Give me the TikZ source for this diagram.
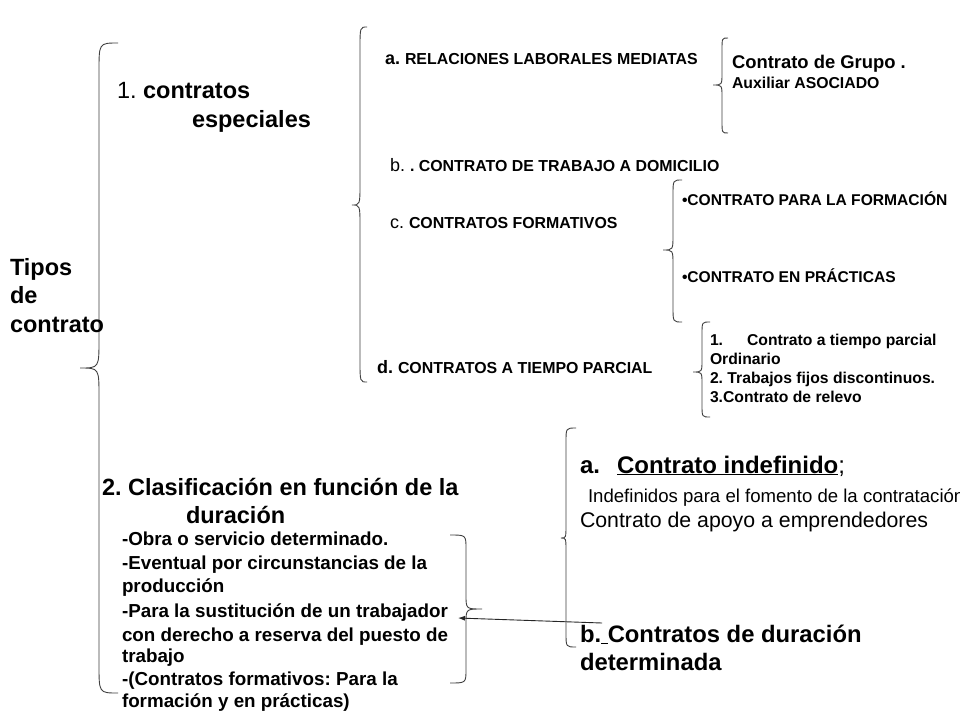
\documentclass[tikz,border=0pt]{standalone}
\usepackage{fontspec}
\setmainfont{Liberation Sans}
\usetikzlibrary{arrows.meta}
\frenchspacing
\newcommand\fs[1]{\fontsize{#1}{#1}\selectfont}
% #1 x of ends, #2 x of spine, #3 x of tip, #4 y top, #5 y tip, #6 y bottom, #7 curl size
\newcommand\brc[7]{\draw[brcline] (#1,#4) .. controls (#2,#4) .. (#2,#4+#7) -- (#2,#5-#7) .. controls (#2,#5) .. (#3,#5) .. controls (#2,#5) .. (#2,#5+#7) -- (#2,#6-#7) .. controls (#2,#6) .. (#1,#6);}
\begin{document}
\begin{tikzpicture}[x=1pt,y=-1pt,
  txt/.style={anchor=base west,inner sep=0pt,outer sep=0pt},
  brcline/.style={line width=0.9pt,draw=black!75},
  arr/.style={line width=0.9pt,draw=black!85,-{Latex[length=7pt,width=5pt]}}]
\useasboundingbox (0,0) rectangle (960,720);
\clip (0,0) rectangle (960,720);
\fill[white] (0,0) rectangle (960,720);

% braces
\brc{118}{99}{80}{43}{368}{693}{28}
\brc{367}{360}{352}{27}{205}{382}{22}
\brc{728}{722}{713}{38}{85}{133}{12}
\brc{682}{673}{663}{180}{250}{322}{15}
\brc{710}{702}{693}{322}{372}{417}{12}
\brc{576}{566}{561}{428}{538}{647}{14}
\brc{450}{466}{482}{535}{609}{683}{14}

% left column
\node[txt,font=\bfseries\fs{23.5}] (tipos) at (10,275) {Tipos};
\node[txt,font=\bfseries\fs{23.5}] (de) at (10,303) {de};
\node[txt,font=\bfseries\fs{23.5}] (contrato) at (10,332) {contrato};

\node[txt,font=\fs{23.5}] (esp1) at (117,98) {1. \textbf{contratos}};
\node[txt,font=\bfseries\fs{23.5}] (esp2) at (192,127) {especiales};

% special contracts
\node[txt] (ra) at (385,64) {\bfseries\fs{18}a. \fs{15.9}RELACIONES LABORALES MEDIATAS};
\node[txt] (rb) at (390,171) {\fs{18}b. \bfseries\fs{15.9}. CONTRATO DE TRABAJO A DOMICILIO};
\node[txt] (rc) at (390,228) {\fs{18}c. \bfseries\fs{15.9}CONTRATOS FORMATIVOS};
\node[txt] (rd) at (377,373) {\bfseries\fs{18}d. \fs{15.9}CONTRATOS A TIEMPO PARCIAL};

\node[txt,font=\bfseries\fs{18.4}] (g1) at (732,68) {Contrato de Grupo .};
\node[txt,font=\bfseries\fs{15.8}] (g2) at (732,88) {Auxiliar ASOCIADO};

\node[txt,font=\bfseries\fs{15.6}] (f1) at (682,205) {•CONTRATO PARA LA FORMACIÓN};
\node[txt,font=\bfseries\fs{15.6}] (f2) at (682,282) {•CONTRATO EN PRÁCTICAS};

\node[txt,font=\bfseries\fs{15.7}] (p1) at (710,345) {1.\hspace{24pt}Contrato a tiempo parcial};
\node[txt,font=\bfseries\fs{15.7}] (p2) at (710,364) {Ordinario};
\node[txt,font=\bfseries\fs{15.7}] (p3) at (710,383) {2. Trabajos fijos discontinuos.};
\node[txt,font=\bfseries\fs{15.7}] (p4) at (710,402) {3.Contrato de relevo};

% duration
\node[txt,font=\bfseries\fs{23.5}] (h1) at (102,495) {2. Clasificación en función de la};
\node[txt,font=\bfseries\fs{23.5}] (h2) at (186,523) {duración};

\node[txt,font=\bfseries\fs{18.8}] (l1) at (122,545) {-Obra o servicio determinado.};
\node[txt,font=\bfseries\fs{18.8}] (l2) at (122,569) {-Eventual por circunstancias de la};
\node[txt,font=\bfseries\fs{18.8}] (l3) at (122,592) {producción};
\node[txt,font=\bfseries\fs{18.8}] (l4) at (122,617) {-Para la sustitución de un trabajador};
\node[txt,font=\bfseries\fs{18.8}] (l5) at (122,641) {con derecho a reserva del puesto de};
\node[txt,font=\bfseries\fs{18.8}] (l6) at (122,662) {trabajo};
\node[txt,font=\bfseries\fs{18.8}] (l7) at (122,685) {-(Contratos formativos: Para la};
\node[txt,font=\bfseries\fs{18.8}] (l8) at (122,707) {formación y en prácticas)};

\node[txt,font=\fs{24}] (ia) at (580,473) {\bfseries a.\hspace{17pt}\underline{Contrato indefinido}\mdseries;};
\node[txt,font=\fs{18.6}] (ib) at (588,502) {Indefinidos para el fomento de la contratación};
\node[txt,font=\fs{21.3}] (ic) at (580,527) {Contrato de apoyo a emprendedores};
\node[txt,font=\bfseries\fs{23.8}] (bd1) at (580,642) {b.\underline{\ }Contratos de duración};
\node[txt,font=\bfseries\fs{23.8}] (bd2) at (580,670) {determinada};

\coordinate (arrS) at (602,623);
\coordinate (arrE) at (458,618);
\draw[arr] (arrS) -- (arrE);
\end{tikzpicture}
\end{document}
